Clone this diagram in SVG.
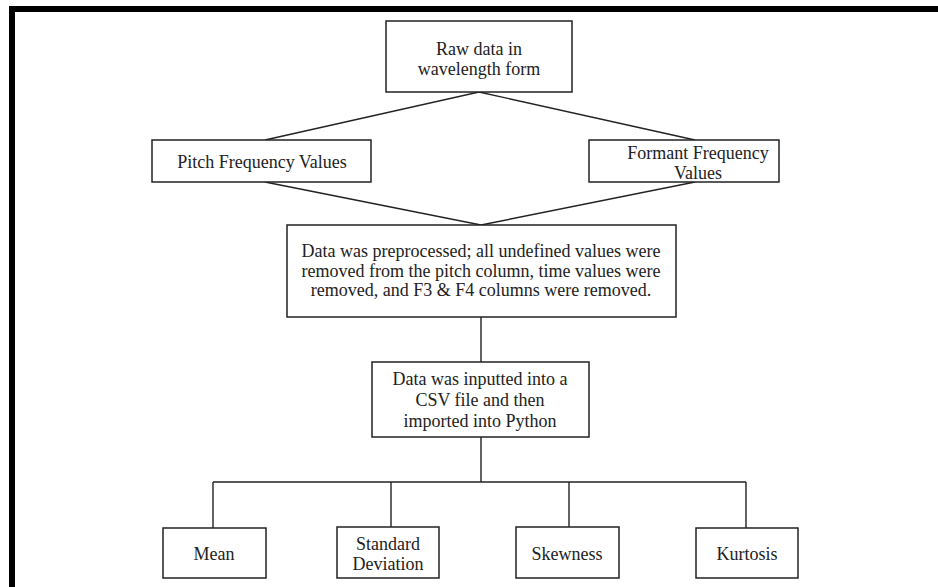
<svg xmlns="http://www.w3.org/2000/svg" width="938" height="587" viewBox="0 0 938 587">
<style>
.box{fill:#fff;stroke:#222;stroke-width:1.5}
.con{fill:none;stroke:#222;stroke-width:1.4}
text{font-family:"Liberation Serif","Times New Roman",serif;font-size:18px;fill:#222;text-anchor:middle}
</style>
<rect x="0" y="0" width="938" height="587" fill="#fff"/>
<rect x="9" y="6" width="929" height="6" fill="#000"/>
<rect x="9" y="6" width="6" height="581" fill="#000"/>
<g id="connectors">
<polyline class="con" points="265,140 479,92 695,140"/>
<polyline class="con" points="265,182 481,225 695,182"/>
<line class="con" x1="481" y1="317" x2="481" y2="362"/>
<line class="con" x1="481" y1="437" x2="481" y2="482"/>
<line class="con" x1="213" y1="482" x2="746" y2="482"/>
<line class="con" x1="213" y1="482" x2="213" y2="528"/>
<line class="con" x1="391" y1="482" x2="391" y2="527"/>
<line class="con" x1="569" y1="482" x2="569" y2="527"/>
<line class="con" x1="746" y1="482" x2="746" y2="528"/>
</g>
<g id="raw">
<rect class="box" x="386" y="21" width="186" height="71"/>
<text x="479" y="55">Raw data in</text>
<text x="479" y="75">wavelength form</text>
</g>
<g id="pitch">
<rect class="box" x="152" y="140" width="219" height="42"/>
<text x="262" y="168">Pitch Frequency Values</text>
</g>
<g id="formant">
<rect class="box" x="589" y="140" width="190" height="42"/>
<text x="698" y="159">Formant Frequency</text>
<text x="698" y="179">Values</text>
</g>
<g id="preprocess">
<rect class="box" x="287" y="225" width="389" height="92"/>
<text x="481" y="257">Data was preprocessed; all undefined values were</text>
<text x="481" y="277">removed from the pitch column, time values were</text>
<text x="481" y="296">removed, and F3 &amp; F4 columns were removed.</text>
</g>
<g id="csv">
<rect class="box" x="372" y="362" width="217" height="75"/>
<text x="480" y="385">Data was inputted into a</text>
<text x="480" y="406">CSV file and then</text>
<text x="480" y="427">imported into Python</text>
</g>
<g id="mean">
<rect class="box" x="163" y="528" width="103" height="50"/>
<text x="214" y="560">Mean</text>
</g>
<g id="std">
<rect class="box" x="337" y="527" width="102" height="51"/>
<text x="388" y="550">Standard</text>
<text x="388" y="570">Deviation</text>
</g>
<g id="skew">
<rect class="box" x="516" y="527" width="103" height="51"/>
<text x="567" y="560">Skewness</text>
</g>
<g id="kurt">
<rect class="box" x="696" y="528" width="102" height="50"/>
<text x="747" y="560">Kurtosis</text>
</g>
</svg>
